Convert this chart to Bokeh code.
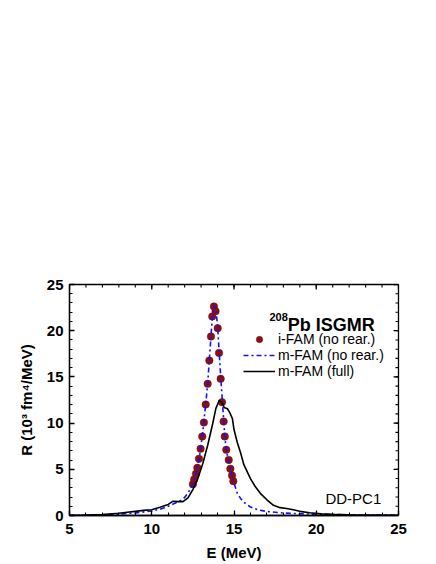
import numpy as np
from bokeh.plotting import figure
from bokeh.models import Legend, LegendItem, Range1d, Label, FixedTicker
from bokeh.embed import file_html
from bokeh.resources import INLINE

# ---- data ----
ifam_E = [12.50, 12.58, 12.69, 12.77, 12.87, 12.97, 13.07, 13.17, 13.28, 13.40, 13.50, 13.60, 13.68, 13.78,
          13.88, 14.01, 14.09, 14.19, 14.27, 14.37, 14.44, 14.53, 14.68, 14.78, 14.88, 14.96]
ifam_R = [3.39, 3.90, 4.51, 5.16, 6.13, 7.22, 8.55, 10.06, 12.01, 14.25, 16.77, 19.37, 21.54, 22.62,
          22.11, 20.27, 17.60, 14.79, 12.27, 10.17, 8.55, 7.11, 6.02, 5.05, 4.33, 3.72]

mfam_nr_E = [5, 6, 7, 8, 9, 10, 10.5, 11, 11.5, 11.75, 12.0, 12.3, 12.5, 12.7, 12.9, 13.1, 13.3, 13.4, 13.5,
             13.6, 13.7, 13.8, 13.9, 14.0, 14.1, 14.2, 14.3, 14.4, 14.5, 14.6, 14.7, 14.8, 14.9, 15.0,
             15.2, 15.4, 15.6, 16.0, 16.5, 17.0, 18.0, 19.0, 20.0, 21.0, 22.0, 23.0, 25.0]
mfam_nr_R = [0.02, 0.04, 0.08, 0.15, 0.28, 0.48, 0.68, 1.0, 1.4, 1.62, 1.95, 2.7, 3.4, 4.6, 6.4, 9.0, 12.4, 14.3, 16.8,
             19.4, 21.8, 22.7, 22.2, 20.6, 17.6, 14.8, 12.2, 9.6, 7.5, 6.5, 5.8, 4.9, 4.2, 3.5,
             2.4, 1.85, 1.44, 0.92, 0.6, 0.43, 0.27, 0.19, 0.14, 0.1, 0.07, 0.05, 0.03]

mfam_full_E = [5, 6, 7, 8, 8.5, 9, 9.5, 10, 10.5, 11, 11.3, 11.6, 11.9, 12.2, 12.5, 12.8, 13.1, 13.4, 13.7,
               13.9, 14.1, 14.25, 14.4, 14.6, 14.75, 14.9, 15.0, 15.2, 15.4, 15.6, 16.0, 16.3, 16.6, 17.0,
               17.4, 17.8, 18.2, 18.6, 19.0, 19.6, 20.3, 21, 22, 23, 25]
mfam_full_R = [0.03, 0.05, 0.1, 0.25, 0.35, 0.45, 0.55, 0.62, 0.9, 1.2, 1.55, 1.5, 1.5, 1.9, 2.8, 4.0, 5.6, 7.6, 9.9,
               11.6, 12.45, 12.3, 11.7, 11.55, 11.1, 10.5, 9.3, 7.9, 6.8, 5.5, 4.0, 3.1, 2.4, 1.7,
               1.1, 0.85, 0.75, 0.62, 0.45, 0.29, 0.18, 0.12, 0.08, 0.06, 0.03]

x_ticks = [5, 10, 15, 20, 25]
y_ticks = [0, 5, 10, 15, 20, 25]
x_minor = list(range(5, 26))
y_minor = list(range(0, 26))

FONT = "Liberation Sans"
X0, X1, Y0, Y1 = 5, 25, 0, 25

p = figure(width=428, height=563, output_backend="svg", toolbar_location=None,
           x_range=Range1d(X0, X1), y_range=Range1d(Y0, Y1),
           min_border_left=69, min_border_right=30, min_border_top=284, min_border_bottom=45)
p.grid.visible = False
p.outline_line_color = "black"
p.outline_line_width = 1.3
p.background_fill_color = "white"
p.border_fill_color = "white"

p.xaxis[0].ticker = FixedTicker(ticks=x_ticks, minor_ticks=x_minor)
p.yaxis[0].ticker = FixedTicker(ticks=y_ticks, minor_ticks=y_minor)
for ax in [p.xaxis[0], p.yaxis[0]]:
    ax.axis_line_color = "black"
    ax.axis_line_width = 1.3
    ax.major_tick_in = 5
    ax.major_tick_out = 0
    ax.minor_tick_in = 3
    ax.minor_tick_out = 0
    ax.major_tick_line_width = 1.3
    ax.minor_tick_line_width = 1.1
    ax.major_label_text_font = FONT
    ax.major_label_text_font_style = "bold"
    ax.major_label_text_font_size = "15px"
    ax.major_label_text_color = "black"
    ax.axis_label_text_font = FONT
    ax.axis_label_text_font_style = "bold"
    ax.axis_label_text_font_size = "15px"
    ax.axis_label_text_color = "black"
p.xaxis[0].axis_label = "E (MeV)"
p.yaxis[0].axis_label = "R (10\u00b3 fm\u2074/MeV)"
p.xaxis[0].major_label_standoff = 8
p.yaxis[0].major_label_standoff = 6
p.xaxis[0].axis_label_standoff = 7
p.yaxis[0].axis_label_standoff = 9

# mirrored inward ticks on the top and right frame edges (clipped half-markers)
p.scatter(x_ticks, [Y1] * len(x_ticks), marker="dash", angle=np.pi / 2, size=10,
          line_color="black", line_width=1.3)
p.scatter(x_minor, [Y1] * len(x_minor), marker="dash", angle=np.pi / 2, size=6,
          line_color="black", line_width=1.1)
p.scatter([X1] * len(y_ticks), y_ticks, marker="dash", size=10, line_color="black", line_width=1.3)
p.scatter([X1] * len(y_minor), y_minor, marker="dash", size=6, line_color="black", line_width=1.1)

r_i = p.scatter(ifam_E, ifam_R, size=7.5, fill_color="#8b1010", line_color="#7a0a0a", line_width=0.5)
r_nr = p.line(mfam_nr_E, mfam_nr_R, line_color="#1010ff", line_width=1.6, line_dash="5 3 2 3")
r_full = p.line(mfam_full_E, mfam_full_R, line_color="black", line_width=1.6)

legend = Legend(items=[
    LegendItem(label="i-FAM (no rear.)", renderers=[r_i]),
    LegendItem(label="m-FAM (no rear.)", renderers=[r_nr]),
    LegendItem(label="m-FAM (full)", renderers=[r_full]),
], location=(174, 136))
legend.glyph_width = 32
legend.glyph_height = 16
legend.label_height = 16
legend.spacing = 0
legend.padding = 0
legend.margin = 0
legend.label_standoff = 3
legend.border_line_alpha = 0
legend.background_fill_alpha = 0
legend.label_text_font = FONT
legend.label_text_font_size = "14px"
legend.label_text_color = "black"
p.add_layout(legend, "center")

p.add_layout(Label(x=18.27, y=20.67, text="Pb ISGMR", text_font=FONT, text_font_style="bold",
                   text_font_size="18px", text_color="black", text_baseline="alphabetic"))
p.add_layout(Label(x=18.27, y=21.45, text="208", text_font=FONT, text_font_style="bold",
                   text_font_size="11px", text_color="black", text_align="right",
                   text_baseline="alphabetic"))
p.add_layout(Label(x=23.95, y=1.85, text="DD-PC1", text_font=FONT,
                   text_font_size="15px", text_color="black", text_align="right",
                   text_baseline="alphabetic"))

open("out.html", "w").write(file_html(p, INLINE))
